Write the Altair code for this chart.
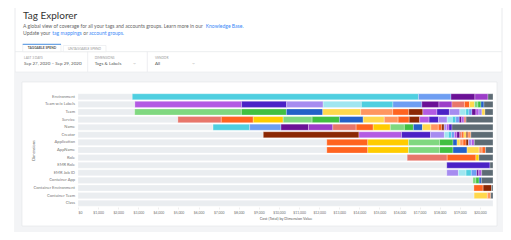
import altair as alt
import pandas as pd

# ---------------- data ----------------
dimensions = ["Environment", "Team w/o Labels", "Team", "Service", "Name", "Creator",
              "Application", "AppName", "Role", "EMR Role", "EMR Job ID", "Container App",
              "Container Environment", "Container Team", "Class"]
total_cost = 20650
tick_values = [0, 1000, 2000, 3000, 4000, 5000, 6000, 7000, 8000, 9000, 10000,
               11000, 12000, 13000, 14000, 15000, 16000, 17000, 18000, 19000, 20000]

environment_keys = ["cyan", "lightblue", "darkpurple", "purple2", "other"]
environment_vals = [14240, 1620, 1190, 650, 250]
team_wo_keys = ["purple1", "indigo", "lavender", "lightcyan", "cyan", "lightblue", "darkpurple", "purple2",
                "salmon", "orange", "lightyellow", "lightgreen", "green", "blue", "other"]
team_wo_vals = [5310, 2240, 1820, 1900, 1570, 1440, 850, 650, 620, 250, 250, 170, 150, 150, 450]
team_keys = ["lightgreen", "green", "blue", "lightyellow", "peach", "orange", "brown", "purple1", "indigo",
             "lavender", "lightcyan", "cyan", "lightblue", "darkpurple", "purple1", "lavender", "lightyellow", "other"]
team_vals = [5310, 2240, 1810, 1890, 1590, 800, 700, 700, 620, 520, 300, 150, 150, 200, 150, 150, 150, 400]
service_keys = ["salmon", "orange", "yellow", "lightgreen", "green", "blue", "lightyellow", "peach", "orange",
                "brown", "purple1", "indigo", "lavender", "lightcyan", "cyan", "lightblue", "darkpurple",
                "purple1", "salmon", "other"]
service_vals = [2160, 1590, 1490, 1440, 1360, 1180, 1050, 690, 550, 520, 470, 470, 430, 260, 170, 170, 120,
                120, 100, 1340]
name_keys = ["cyan", "lightblue", "darkpurple", "purple2", "salmon", "orange", "yellow", "lightgreen", "green",
             "blue", "lightyellow", "peach", "orange", "brown", "lavender", "purple1", "indigo", "other"]
name_vals = [1820, 1560, 1370, 1210, 1160, 850, 850, 700, 450, 450, 420, 370, 170, 120, 120, 120, 150, 2040]
creator_keys = ["brown", "purple1", "indigo", "lavender", "lightcyan", "cyan", "lightblue", "purple1",
                "darkpurple", "salmon", "orange", "lightyellow", "brown", "peach", "other"]
creator_vals = [4760, 2120, 1440, 690, 200, 150, 150, 120, 150, 100, 100, 120, 80, 150, 1100]
application_keys = ["orange", "yellow", "lightgreen", "green", "blue", "lightyellow", "peach", "orange",
                    "brown", "lavender", "purple1", "other"]
application_vals = [2040, 2030, 1540, 670, 200, 150, 150, 150, 120, 150, 140, 930]
appname_keys = ["orange", "yellow", "lightgreen", "green", "blue", "lightyellow", "peach", "orange", "other"]
appname_vals = [2040, 2030, 1540, 670, 700, 600, 150, 170, 370]
role_keys = ["salmon", "orange", "yellow", "other"]
role_vals = [1990, 1430, 150, 700]
emr_role_keys = ["indigo", "other"]
emr_role_vals = [2150, 150]
emr_job_keys = ["lavender", "lightcyan", "cyan", "lightblue", "darkpurple", "purple1", "other"]
emr_job_vals = [580, 380, 260, 270, 100, 150, 560]
container_app_keys = ["lightgreen", "green", "blue", "other"]
container_app_vals = [150, 160, 110, 580]
container_env_keys = ["orange", "brown", "other"]
container_env_vals = [460, 420, 70]
container_team_keys = ["lightyellow", "peach", "other"]
container_team_vals = [660, 170, 110]
class_keys = []
class_vals = []

row_segments = [
    (environment_keys, environment_vals), (team_wo_keys, team_wo_vals), (team_keys, team_vals),
    (service_keys, service_vals), (name_keys, name_vals), (creator_keys, creator_vals),
    (application_keys, application_vals), (appname_keys, appname_vals), (role_keys, role_vals),
    (emr_role_keys, emr_role_vals), (emr_job_keys, emr_job_vals), (container_app_keys, container_app_vals),
    (container_env_keys, container_env_vals), (container_team_keys, container_team_vals), (class_keys, class_vals),
]

palette = {
    "untagged": "#eaedf0", "cyan": "#4fcfe0", "lightblue": "#6e9ef2", "darkpurple": "#6b1196",
    "purple2": "#9c3dc8", "purple1": "#b35be3", "indigo": "#4b22c6", "lavender": "#a68cf0",
    "lightcyan": "#a0e6f0", "lightgreen": "#80d880", "green": "#41c041", "blue": "#2461c8",
    "lightyellow": "#ffd84d", "peach": "#ff9660", "orange": "#ff6420", "brown": "#8b2804",
    "salmon": "#e8766b", "yellow": "#ffcc00", "other": "#5d6b74",
}

records = []
for dim, (keys, vals) in zip(dimensions, row_segments):
    records.append({"dimension": dim, "key": "untagged", "value": total_cost - sum(vals), "idx": 0})
    for i, (k, v) in enumerate(zip(keys, vals)):
        records.append({"dimension": dim, "key": k, "value": v, "idx": i + 1})
df = pd.DataFrame(records)

one = pd.DataFrame({"k": [0]})
FONT = "Lato"


def box(x, x2, y, y2, fill, stroke=None, sw=0.0):
    kw = dict(fill=fill)
    if stroke:
        kw.update(stroke=stroke, strokeWidth=sw)
    return alt.Chart(one).mark_rect(**kw).encode(
        x=alt.value(x), x2=alt.value(x2), y=alt.value(y), y2=alt.value(y2))


def hline(x, x2, y, color, sw=0.8):
    return alt.Chart(one).mark_rule(color=color, strokeWidth=sw).encode(
        x=alt.value(x), x2=alt.value(x2), y=alt.value(y))


def vline(x, y, y2, color, sw=0.8):
    return alt.Chart(one).mark_rule(color=color, strokeWidth=sw).encode(
        x=alt.value(x), y=alt.value(y), y2=alt.value(y2))


def txt(s, x, y, size, color, weight="normal", align="left", baseline="middle", angle=0):
    return alt.Chart(one).mark_text(fontSize=size, color=color, fontWeight=weight, align=align,
                                    baseline=baseline, angle=angle, font=FONT).encode(
        x=alt.value(x), y=alt.value(y), text=alt.value(s))


DESC = 5.05
deco = [
    box(-63, 424, -92, 139, "white", "#e3e5e8", 0.8),
    hline(-63, 424, -41.3, "#e6e8eb"),
    box(-63, 424, -21, 139, "#f3f4f6"),
    hline(-63, 424, -21, "#e8eaed", 0.6),
    box(-56, 419, -11, 133, "white", "#e2e4e8", 0.6),
    box(-55.3, -17, -48.7, -41.3, "white", "#e6e8eb", 0.6),
    hline(-55.3, -17, -48.7, "#4a90e2", 1.0),
    box(-14.7, 28, -47.5, -41.3, "white", "#e6e8eb", 0.6),
    vline(9.7, -41.3, -21, "#e8eaed"),
    vline(69.3, -41.3, -21, "#e8eaed"),
    txt("Tag Explorer", -55, -73.7, 10, "#333333", baseline="alphabetic"),
    txt("A global view of coverage for all your tags and accounts groups. Learn more in our",
        -55, -67, DESC, "#666666"),
    txt("Knowledge Base.", 127.7, -67, DESC, "#3d8af7"),
    txt("Update your", -55, -60.5, DESC, "#666666"),
    txt("tag mappings", -25.7, -60.5, DESC, "#3d8af7"),
    txt("or", 5.3, -60.5, DESC, "#666666"),
    txt("account groups.", 11, -60.5, DESC, "#3d8af7"),
    txt("TAGGABLE SPEND", -36, -45, 3.3, "#555555", weight="bold", align="center"),
    txt("UNTAGGABLE SPEND", 6.5, -44.5, 3.3, "#999999", align="center"),
    txt("LAST 3 DAYS", -54, -35.5, 3.2, "#999999"),
    txt("Sep 27, 2020 \u2013 Sep 29, 2020", -54, -29.3, 4.5, "#555555"),
    txt("DIMENSIONS", 16.7, -35.5, 3.2, "#999999"),
    txt("Tags & Labels", 16.7, -29.3, 4.5, "#555555"),
    txt("VENDOR", 77, -35.5, 3.2, "#999999"),
    txt("All", 77, -29.3, 4.5, "#555555"),
    txt("\u203a", 57, -29.5, 6, "#aaaaaa", align="center", angle=90),
    txt("\u203a", 116.3, -29.5, 6, "#aaaaaa", align="center", angle=90),
]

bars = alt.Chart(df).mark_bar(stroke="white", strokeWidth=0.35, strokeOpacity=0.8).encode(
    x=alt.X("value:Q", stack="zero",
            scale=alt.Scale(domain=[0, total_cost], nice=False, zero=True),
            axis=alt.Axis(values=tick_values, format="$,.0f", domain=False, grid=False,
                          tickSize=2, tickColor="#dddddd", tickWidth=0.5,
                          labelFontSize=3.4, labelColor="#707070", labelPadding=1.5, labelFont=FONT,
                          title="Cost (Total) by Dimension Value", titleFontSize=3.8,
                          titleFontWeight="normal", titleColor="#606060", titleFont=FONT,
                          titleY=11, titleBaseline="middle", zindex=1)),
    y=alt.Y("dimension:N", sort=dimensions,
            scale=alt.Scale(paddingInner=0.2, paddingOuter=0.1),
            axis=alt.Axis(domain=False, ticks=False, grid=False, labelFontSize=4.1,
                          labelColor="#777777", labelPadding=3.5, labelFont=FONT,
                          title="Dimensions", titleFontSize=4, titleFontWeight="normal",
                          titleColor="#707070", titleFont=FONT, titleX=-45, titleY=57,
                          titleAngle=270, titleAlign="center", titleBaseline="middle", zindex=1)),
    color=alt.Color("key:N", scale=alt.Scale(domain=list(palette.keys()), range=list(palette.values())),
                    legend=None),
    order=alt.Order("idx:Q"),
)

chart = alt.layer(*deco, bars).properties(
    width=415, height=114,
    padding={"left": 70, "top": 85, "right": 10, "bottom": 25},
    autosize=alt.AutoSizeParams(type="none"),
    background="white",
).configure_view(strokeWidth=0)

chart.save("out.html", embed_options={"renderer": "svg", "actions": False})
